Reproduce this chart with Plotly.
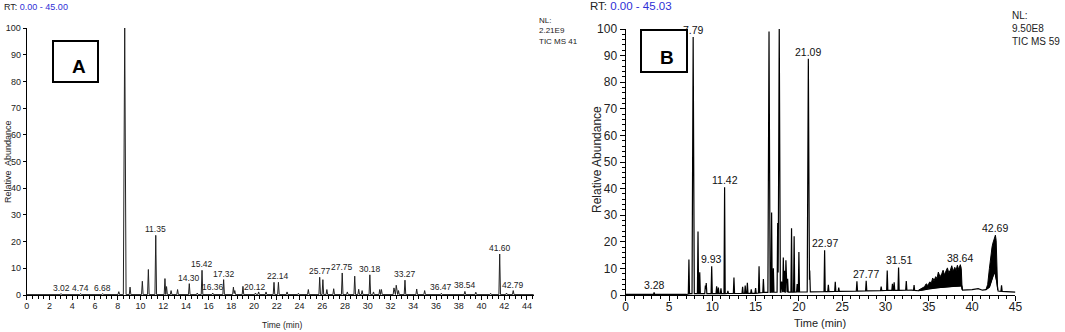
import numpy as np
import plotly.graph_objects as go

W, H = 1065, 332

# ---------------- Panel A data ----------------
A_peak_rt = [3.02, 4.74, 6.68, 8.10, 8.62, 9.09, 10.17, 10.70, 11.35, 12.16, 12.30, 12.70,
             13.27, 14.30, 15.00, 15.42, 16.36, 17.32, 18.18, 18.30, 19.02, 20.12, 20.40,
             21.05, 21.75, 22.14, 22.90, 23.90, 24.77, 25.77, 26.05, 26.40, 27.00, 27.75,
             28.20, 28.85, 29.20, 29.50, 30.18, 30.50, 31.05, 31.20, 32.30, 32.50, 32.70,
             33.27, 34.30, 35.00, 36.47, 38.54, 39.50, 40.80, 41.60, 42.20, 42.79]
A_peak_h = [0.4, 0.4, 0.4, 1.1, 100.0, 2.8, 5.0, 9.4, 22.2, 6.0, 3.0, 1.5,
            1.9, 4.1, 0.6, 9.1, 0.6, 5.6, 2.8, 1.5, 3.1, 0.6, 1.0,
            1.0, 4.6, 4.6, 1.0, 0.5, 1.9, 6.5, 5.6, 1.9, 2.2, 8.1,
            1.0, 6.9, 2.0, 1.5, 7.4, 1.0, 1.9, 1.9, 2.5, 3.5, 1.5,
            5.4, 2.1, 1.5, 0.5, 1.2, 0.9, 0.5, 15.2, 0.6, 1.5]
A_base_rt = [0.0, 44.6]
A_base_val = [0.15, 0.15]
A_labels = ["3.02", "4.74", "6.68", "8.62", "11.35", "14.30", "15.42", "16.36", "17.32",
            "20.12", "22.14", "25.77", "27.75", "30.18", "33.27", "36.47", "38.54",
            "41.60", "42.79"]
A_xticks = list(range(0, 45, 2))
A_yticks = list(range(0, 101, 10))

# ---------------- Panel B data ----------------
B_peak_rt = [3.28, 7.30, 7.79, 8.35, 8.55, 9.20, 9.30, 9.93, 10.50, 10.70, 11.00, 11.42,
             11.80, 12.50, 13.50, 13.80, 14.05, 14.50, 15.00, 15.40, 15.90, 16.55, 16.85,
             17.05, 17.55, 17.73, 18.00, 18.20, 18.35, 18.50, 18.70, 19.15, 19.45, 19.80,
             20.00, 21.09, 21.25, 22.97, 23.40, 24.20, 24.60, 26.70, 27.77, 29.50, 30.20,
             30.80, 31.00, 31.51, 32.40, 33.30, 38.64, 43.40]
B_peak_h = [0.8, 13.0, 96.5, 23.4, 8.0, 3.0, 4.0, 10.3, 2.7, 2.3, 2.0, 40.0,
            1.0, 6.0, 2.5, 3.0, 4.0, 1.5, 2.0, 10.0, 5.0, 98.0, 30.0,
            9.0, 26.0, 100.0, 4.0, 13.0, 8.0, 12.0, 5.0, 24.0, 21.0, 3.0,
            15.0, 87.6, 8.0, 15.6, 2.6, 3.7, 1.5, 3.7, 3.8, 1.5, 7.5,
            2.5, 3.0, 8.6, 3.5, 2.0, 7.6, 2.3]
B_base_rt = [0.0, 7.0, 7.5, 15.0, 16.0, 22.0, 26.0, 30.0, 33.0, 33.8, 34.5, 35.0, 36.0,
             37.0, 38.0, 38.8, 38.9, 40.0, 40.7, 41.2, 41.6, 42.0, 42.3, 42.6, 42.85,
             43.0, 44.0, 45.0]
B_base_val = [0.2, 0.2, 0.5, 0.6, 1.0, 1.2, 1.4, 1.7, 1.8, 1.6, 2.0, 2.4, 2.8,
              3.0, 3.3, 3.4, 1.8, 2.0, 2.4, 1.8, 2.0, 3.0, 6.0, 9.0, 5.0,
              1.5, 1.2, 1.1]
# noisy envelope regions (upper / lower)
B_hump_rt = [33.8, 34.2, 34.5, 34.7, 34.9, 35.1, 35.3, 35.45, 35.6, 35.8, 35.95, 36.1,
             36.3, 36.5, 36.65, 36.8, 37.0, 37.15, 37.3, 37.5, 37.65, 37.8, 38.0, 38.15,
             38.3, 38.45, 38.64, 38.75, 38.85]
B_hump_up = [1.8, 2.5, 3.1, 4.2, 3.6, 4.9, 4.6, 6.4, 5.4, 6.9, 6.2, 8.6,
             6.8, 8.0, 9.3, 7.6, 9.0, 10.2, 8.4, 9.4, 11.0, 8.9, 10.4, 9.2,
             11.2, 9.6, 11.4, 10.0, 2.0]
B_hump_lo_rt = [33.8, 34.5, 35.0, 36.0, 37.0, 38.0, 38.8, 38.85]
B_hump_lo = [1.6, 2.0, 2.4, 2.8, 3.0, 3.3, 3.4, 2.0]
B_end_rt = [41.6, 41.8, 42.0, 42.15, 42.3, 42.4, 42.5, 42.6, 42.69, 42.78, 42.85, 42.95]
B_end_up = [2.0, 4.0, 10.0, 15.5, 18.0, 19.5, 20.5, 21.0, 22.5, 20.5, 12.0, 2.0]
B_end_lo_rt = [41.6, 42.0, 42.3, 42.6, 42.85, 42.95]
B_end_lo = [2.0, 3.0, 6.0, 9.0, 5.0, 2.0]
B_labels = ["3.28", "7.79", "9.93", "11.42", "17.73", "21.09", "22.97", "27.77",
            "31.51", "38.64", "42.69"]
B_xticks = list(range(0, 46, 5))
B_yticks = list(range(0, 101, 10))


def chrom(peak_rt, peak_h, base_rt, base_val, hw_small, hw_big):
    xs = set(base_rt)
    hws = [hw_big if h > 50 else hw_small for h in peak_h]
    for t, w in zip(peak_rt, hws):
        xs.update([t - w, t, t + w])
    xs = np.array(sorted(x for x in xs if base_rt[0] <= x <= base_rt[-1]))
    ys = np.interp(xs, base_rt, base_val)
    for t, h, w in zip(peak_rt, peak_h, hws):
        ys = ys + np.clip(h * (1 - np.abs(xs - t) / w), 0, None)
    return xs, ys


def poly(up_rt, up, lo_rt, lo):
    return list(up_rt) + list(lo_rt[::-1]), list(up) + list(lo[::-1])


A_FONT = "Liberation Sans, Arial, sans-serif"
B_FONT = "Liberation Sans, Arial, sans-serif"

fig = go.Figure()

ax, ay = chrom(A_peak_rt, A_peak_h, A_base_rt, A_base_val, 0.07, 0.12)
fig.add_trace(go.Scatter(x=ax, y=ay, mode="lines", line=dict(color="#222", width=1),
                         xaxis="x", yaxis="y", hoverinfo="skip"))

bx, by = chrom(B_peak_rt, B_peak_h, B_base_rt, B_base_val, 0.07, 0.13)
for (urt, u, lrt, l) in [(B_hump_rt, B_hump_up, B_hump_lo_rt, B_hump_lo),
                         (B_end_rt, B_end_up, B_end_lo_rt, B_end_lo)]:
    px_, py_ = poly(urt, u, lrt, l)
    fig.add_trace(go.Scatter(x=px_, y=py_, mode="lines", fill="toself", fillcolor="black",
                             line=dict(color="black", width=1), xaxis="x2", yaxis="y2",
                             hoverinfo="skip"))
fig.add_trace(go.Scatter(x=bx, y=by, mode="lines", line=dict(color="black", width=1.2),
                         xaxis="x2", yaxis="y2", hoverinfo="skip"))

ann = []
for lab in A_labels:
    t = float(lab)
    yv = float(np.interp(t, ax, ay))
    ann.append(dict(x=t, y=yv, xref="x", yref="y", text=lab, showarrow=False,
                    xanchor="center", yanchor="bottom", yshift=-1,
                    font=dict(family=A_FONT, size=8.5, color="#222")))
for lab in B_labels:
    t = float(lab)
    yv = float(np.interp(t, bx, by))
    for rts, ups in [(B_hump_rt, B_hump_up), (B_end_rt, B_end_up)]:
        if rts[0] <= t <= rts[-1]:
            yv = max(yv, float(np.interp(t, rts, ups)))
    ann.append(dict(x=t, y=yv, xref="x2", yref="y2", text=lab, showarrow=False,
                    xanchor="center", yanchor="bottom", yshift=-1,
                    font=dict(family=B_FONT, size=10.5, color="#111")))


def P(px, py):
    return px / W, 1 - py / H


# boxes (annotations so they cover labels beneath)
for (cx, cy, w, h) in [(75, 61, 43, 39), (663.5, 50.5, 44, 40)]:
    x, y = P(cx, cy)
    ann.append(dict(x=x, y=y, xref="paper", yref="paper", text=" ", showarrow=False,
                    width=w, height=h, borderwidth=2, bordercolor="black", borderpad=0,
                    bgcolor="white", xanchor="center", yanchor="middle"))
for (cx, cy, t) in [(78.5, 66.5, "A"), (667, 57, "B")]:
    x, y = P(cx, cy)
    ann.append(dict(x=x, y=y, xref="paper", yref="paper", text="<b>%s</b>" % t,
                    showarrow=False, xanchor="center", yanchor="middle",
                    font=dict(family=B_FONT, size=19, color="black")))

# RT text
x, y = P(2, 7)
ann.append(dict(x=x, y=y, xref="paper", yref="paper", xanchor="left", yanchor="middle",
                showarrow=False, text="RT: <span style='color:#2e2ed6'>0.00 - 45.00</span>",
                font=dict(family=A_FONT, size=9, color="#222")))
x, y = P(588, 6)
ann.append(dict(x=x, y=y, xref="paper", yref="paper", xanchor="left", yanchor="middle",
                showarrow=False, text="RT: <span style='color:#2e2ed6'>0.00 - 45.03</span>",
                font=dict(family=B_FONT, size=11.5, color="#222")))
# NL text
x, y = P(537, 14)
ann.append(dict(x=x, y=y, xref="paper", yref="paper", xanchor="left", yanchor="top",
                showarrow=False, align="left",
                text="NL:<br>2.21E9<br>TIC MS 41",
                font=dict(family=A_FONT, size=8, color="#222")))
x, y = P(1010, 8)
ann.append(dict(x=x, y=y, xref="paper", yref="paper", xanchor="left", yanchor="top",
                showarrow=False, align="left", text="NL:<br>9.50E8<br>TIC MS 59",
                font=dict(family=B_FONT, size=10, color="#222")))
# axis titles
for (cx, cy, sz, fam, txt, ang) in [(8, 162, 9, A_FONT, "Relative  Abundance", -90),
                                    (282, 325, 8.5, A_FONT, "Time (min)", 0),
                                    (597, 160, 12, B_FONT, "Relative Abundance", -90),
                                    (820, 323, 11, B_FONT, "Time (min)", 0)]:
    x, y = P(cx, cy)
    ann.append(dict(x=x, y=y, xref="paper", yref="paper", xanchor="center", yanchor="middle",
                    showarrow=False, text=txt, textangle=ang,
                    font=dict(family=fam, size=sz, color="#222")))

axcommon = dict(showgrid=False, zeroline=False, showline=True, linecolor="black",
                ticks="outside", tickcolor="black", tickwidth=1, automargin=False)
A_x0, A_ppm = 26.7, 11.37
B_x0, B_x1 = 625.7, 1015.4

fig.update_layout(
    width=W, height=H, margin=dict(l=0, r=0, t=0, b=0, pad=0, autoexpand=False),
    paper_bgcolor="white", plot_bgcolor="white", showlegend=False,
    xaxis=dict(axcommon, domain=[A_x0 / W, (A_x0 + 44.6 * A_ppm) / W], range=[0, 44.6],
               tickmode="array", tickvals=A_xticks, ticklen=4, linewidth=1, anchor="y",
               ticklabelstandoff=-2,
               tickfont=dict(family=A_FONT, size=9, color="#222"),
               minor=dict(dtick=0.5, tick0=0, ticks="outside", ticklen=3, tickcolor="black",
                          showgrid=False)),
    yaxis=dict(axcommon, domain=[37 / H, 304 / H], range=[0, 100], tickmode="array",
               tickvals=A_yticks, ticklen=3, linewidth=1, anchor="x",
               tickfont=dict(family=A_FONT, size=9, color="#222")),
    xaxis2=dict(axcommon, domain=[B_x0 / W, B_x1 / W], range=[0, 45], tickmode="array",
                tickvals=B_xticks, ticklen=5, linewidth=1.3, anchor="y2",
                ticklabelstandoff=-5,
                tickfont=dict(family=B_FONT, size=12, color="#222"),
                minor=dict(dtick=1, tick0=0, ticks="outside", ticklen=3, tickcolor="black",
                           showgrid=False)),
    yaxis2=dict(axcommon, domain=[37 / H, 303 / H], range=[0, 100], tickmode="array",
                tickvals=B_yticks, ticklen=5, linewidth=1.3, anchor="x2",
                tickfont=dict(family=B_FONT, size=12, color="#222"),
                minor=dict(dtick=2, tick0=0, ticks="outside", ticklen=3, tickcolor="black",
                           showgrid=False)),
    annotations=ann,
)

fig.write_html("out.html", config={"displayModeBar": False},
               post_script="document.body.style.margin='0';document.body.style.overflow='hidden';")
